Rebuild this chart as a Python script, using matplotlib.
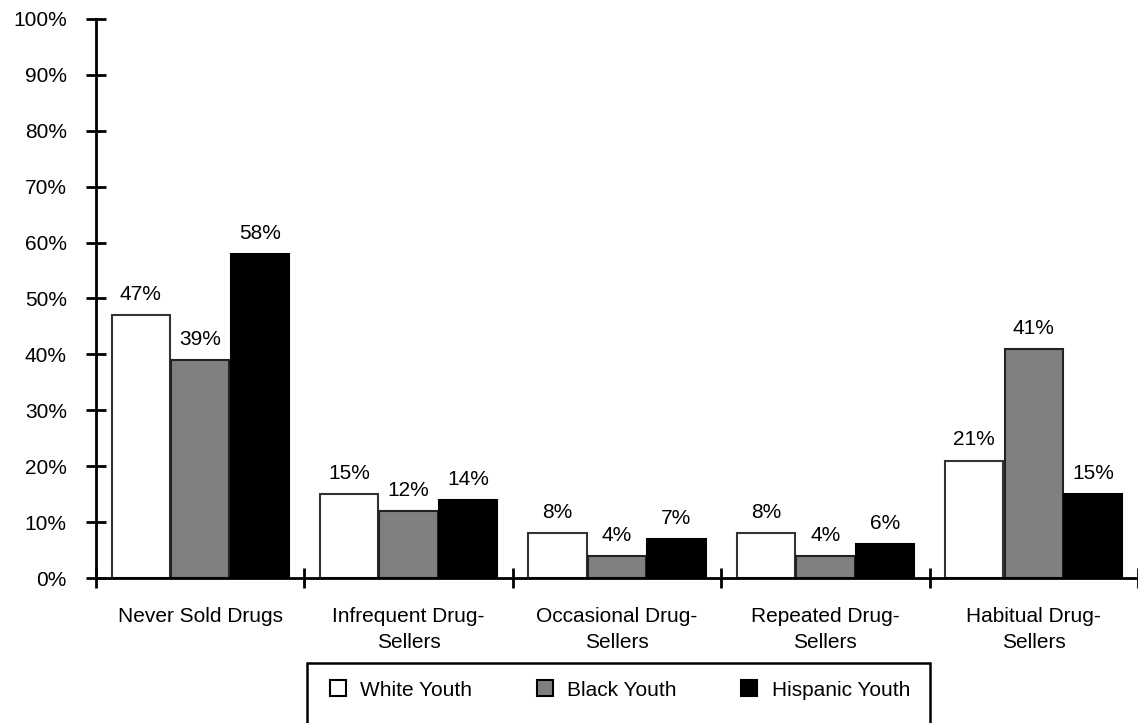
import matplotlib.pyplot as plt
import numpy as np
from matplotlib.patches import Rectangle, Patch

plt.rcParams['font.family'] = ['Liberation Sans', 'DejaVu Sans']

categories = ["Never Sold Drugs", "Infrequent Drug-\nSellers", "Occasional Drug-\nSellers",
              "Repeated Drug-\nSellers", "Habitual Drug-\nSellers"]
series_names = ["White Youth", "Black Youth", "Hispanic Youth"]
white = [47, 15, 8, 8, 21]
black = [39, 12, 4, 4, 41]
hispanic = [58, 14, 7, 6, 15]

fills = ["#ffffff", "#808080", "#000000"]
edges = ["#333333", "#222222", "#000000"]
FS = 15

fig = plt.figure(figsize=(11.38, 7.23), dpi=100)
ax = fig.add_axes([96 / 1138, 145 / 723, 1 - 96 / 1138, (578 - 19) / 723])

x = np.arange(len(categories)) + 0.5
w = 0.28
step = 0.2855
for i, vals in enumerate([white, black, hispanic]):
    bars = ax.bar(x + (i - 1) * step, vals, width=w, color=fills[i], edgecolor=edges[i],
                  linewidth=1.5, label=series_names[i])
    ax.bar_label(bars, labels=[f"{v}%" for v in vals], padding=8, fontsize=FS)

ax.set_xlim(0, len(categories))
ax.set_ylim(0, 100)
ax.set_yticks(np.arange(0, 101, 10))
ax.set_yticklabels([f"{v}%" for v in range(0, 101, 10)])
ax.set_xticks(np.arange(0, len(categories) + 1))
ax.set_xticklabels([])
ax.set_xticks(x, minor=True)
ax.set_xticklabels(categories, minor=True, linespacing=1.45)

for s in ["top", "right"]:
    ax.spines[s].set_visible(False)
for s in ["left", "bottom"]:
    ax.spines[s].set_linewidth(2)

ax.tick_params(axis='both', which='major', direction='inout', length=14, width=2,
               labelsize=FS)
ax.tick_params(axis='y', pad=14)
ax.tick_params(axis='x', which='minor', length=0, pad=21, labelsize=FS)

# legend box
fig.add_artist(Rectangle((307 / 1138, -0.05), (930 - 307) / 1138, (723 - 663) / 723 + 0.05,
                         transform=fig.transFigure, fill=False, edgecolor='black',
                         linewidth=1.8, clip_on=False))
handles = [Patch(facecolor=fills[i], edgecolor='black', linewidth=1.5) for i in range(3)]
fig.legend(handles, series_names, loc='center', bbox_to_anchor=(620 / 1138, 1 - 690 / 723),
           ncol=3, frameon=False, fontsize=FS, handlelength=0.77, handleheight=0.77,
           handletextpad=0.7, columnspacing=3.1)

fig.savefig("out.png", dpi=100)
